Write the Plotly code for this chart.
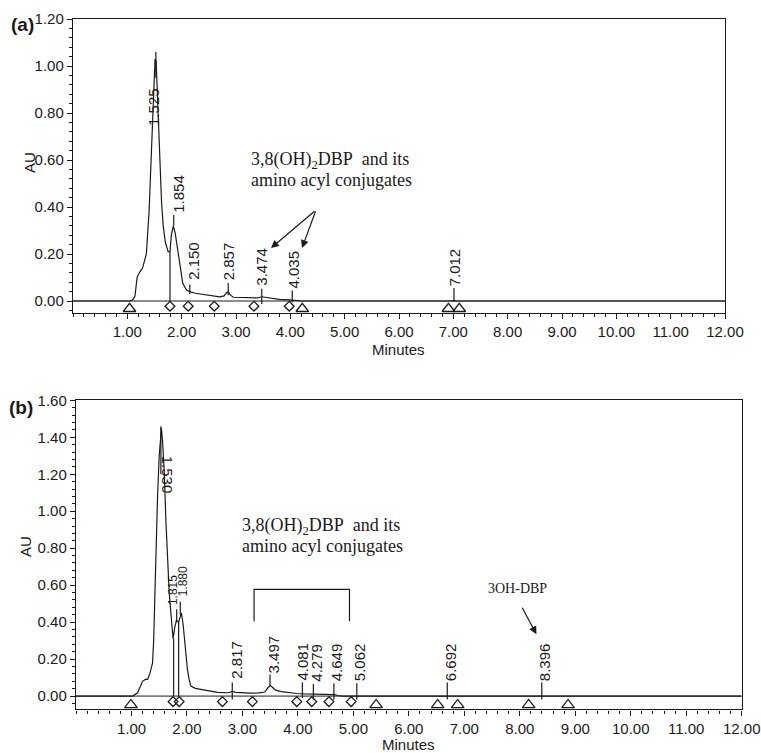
import plotly.graph_objects as go

# ---------------- Panel (a) data ----------------
time_a = [0.00, 1.05, 1.10, 1.14, 1.18, 1.22, 1.28, 1.35, 1.40, 1.45, 1.49, 1.51, 1.53,
          1.56, 1.60, 1.63, 1.66, 1.70, 1.75, 1.785, 1.81, 1.846, 1.88, 1.92, 1.97, 2.02,
          2.09, 2.15, 2.25, 2.34, 2.45, 2.58, 2.70, 2.78, 2.83, 2.86, 2.90, 2.95, 3.10,
          3.32, 3.40, 3.47, 3.55, 3.70, 3.80, 3.98, 4.11, 4.22, 6.95, 7.01, 7.06, 12.00]
au_a = [0.000, 0.000, 0.005, 0.020, 0.100, 0.120, 0.140, 0.200, 0.380, 0.710, 0.950, 1.030, 1.020,
        0.820, 0.570, 0.420, 0.320, 0.250, 0.210, 0.210, 0.280, 0.320, 0.290, 0.230, 0.150, 0.075,
        0.047, 0.040, 0.033, 0.030, 0.025, 0.020, 0.018, 0.022, 0.037, 0.038, 0.025, 0.016, 0.014,
        0.012, 0.013, 0.018, 0.015, 0.009, 0.007, 0.005, 0.003, 0.000, 0.000, 0.002, 0.000, 0.000]

peak_rt_a = [1.525, 1.854, 2.150, 2.857, 3.474, 4.035, 7.012]
tick_lo_a = [0.95, 0.32, 0.03, 0.025, -0.013, -0.005, 0.0]
tick_hi_a = [1.06, 0.366, 0.07, 0.077, 0.052, 0.045, 0.055]
label_y_a = [0.74, 0.37, 0.085, 0.085, 0.060, 0.050, 0.058]
drop_t_a = [1.785]
drop_v_a = [0.21]
diamond_a = [1.785, 2.12, 2.60, 3.33, 3.98]
triangle_a = [1.04, 4.22, 6.91, 7.11]

# ---------------- Panel (b) data ----------------
time_b = [0.00, 1.02, 1.11, 1.16, 1.20, 1.25, 1.29, 1.33, 1.38, 1.40, 1.42, 1.445, 1.47, 1.50,
          1.54, 1.56, 1.59, 1.62, 1.65, 1.68, 1.71, 1.75, 1.78, 1.81, 1.85, 1.90, 1.93, 1.95,
          1.98, 2.01, 2.04, 2.07, 2.15, 2.25, 2.40, 2.55, 2.75, 2.82, 2.88, 3.00, 3.15, 3.30,
          3.40, 3.46, 3.50, 3.54, 3.60, 3.70, 3.85, 3.98, 4.12, 4.36, 4.66, 4.72, 4.80, 12.00]
au_b = [0.000, 0.000, 0.018, 0.050, 0.080, 0.090, 0.090, 0.120, 0.180, 0.300, 0.540, 0.800, 1.080, 1.300,
        1.450, 1.380, 1.220, 0.950, 0.720, 0.560, 0.450, 0.310, 0.370, 0.410, 0.400, 0.450, 0.390, 0.320,
        0.220, 0.140, 0.090, 0.054, 0.042, 0.036, 0.028, 0.020, 0.018, 0.025, 0.020, 0.017, 0.016, 0.017,
        0.022, 0.045, 0.058, 0.048, 0.032, 0.024, 0.017, 0.014, 0.012, 0.010, 0.008, 0.003, 0.000, 0.000]

peak_rt_b = [1.530, 1.815, 1.880, 2.817, 3.497, 4.081, 4.279, 4.649, 5.062, 6.692, 8.396]
tick_lo_b = [1.20, 0.40, 0.44, -0.018, 0.058, -0.01, -0.02, -0.02, -0.02, -0.018, -0.018]
tick_hi_b = [1.46, 0.47, 0.51, 0.074, 0.117, 0.075, 0.066, 0.070, 0.070, 0.074, 0.074]
label_y_b = [1.09, 0.485, 0.533, 0.090, 0.117, 0.081, 0.072, 0.074, 0.074, 0.074, 0.074]
drop_t_b = [1.76, 1.85]
drop_v_b = [0.31, 0.40]
diamond_b = [1.75, 1.86, 2.64, 3.18, 3.98, 4.25, 4.56, 4.96]
triangle_b = [0.99, 5.41, 6.52, 6.88, 8.16, 8.87]

bracket_t_b = [3.21, 4.93]
bracket_v_b = [0.405, 0.577]

x_ticks = [1, 2, 3, 4, 5, 6, 7, 8, 9, 10, 11, 12]
y_ticks_a = [0.0, 0.2, 0.4, 0.6, 0.8, 1.0, 1.2]
y_ticks_b = [0.0, 0.2, 0.4, 0.6, 0.8, 1.0, 1.2, 1.4, 1.6]

# ---------------- figure ----------------
W, H = 761, 753
INK = "#1a1a1a"
SANS = "Arial, Liberation Sans, sans-serif"
SERIF = "Times New Roman, Liberation Serif, serif"
TICKFONT = 15
LABELFONT = 15


def fx(px):
    return px / W


def fy(py):
    return 1 - py / H


fig = go.Figure()


def segs(xs, lo, hi):
    X, Y = [], []
    for x, a, b in zip(xs, lo, hi):
        X += [x, x, None]
        Y += [a, b, None]
    return X, Y


def add_panel(xa, ya, t, v, rts, lo, hi, dt, dv, dia, tri, dia_y, tri_y):
    fig.add_trace(go.Scatter(x=[0, 12], y=[0, 0], mode="lines", xaxis=xa, yaxis=ya,
                             line=dict(color=INK, width=1), hoverinfo="skip", showlegend=False))
    fig.add_trace(go.Scatter(x=t, y=v, mode="lines", xaxis=xa, yaxis=ya,
                             line=dict(color=INK, width=1.2), showlegend=False))
    X, Y = segs(rts, lo, hi)
    X2, Y2 = segs(dt, [0] * len(dt), dv)
    fig.add_trace(go.Scatter(x=X + X2, y=Y + Y2, mode="lines", xaxis=xa, yaxis=ya,
                             line=dict(color=INK, width=1.2), hoverinfo="skip", showlegend=False))
    fig.add_trace(go.Scatter(x=dia, y=[dia_y] * len(dia), mode="markers", xaxis=xa, yaxis=ya,
                             marker=dict(symbol="diamond-open", size=7.5, color=INK,
                                         line=dict(width=1.3, color=INK)),
                             showlegend=False))
    fig.add_trace(go.Scatter(x=tri, y=[tri_y] * len(tri), mode="markers", xaxis=xa, yaxis=ya,
                             marker=dict(symbol="triangle-up-open", size=11, color=INK,
                                         line=dict(width=1.3, color=INK)),
                             showlegend=False))


add_panel("x", "y", time_a, au_a, peak_rt_a, tick_lo_a, tick_hi_a, drop_t_a, drop_v_a,
          diamond_a, triangle_a, -0.022, -0.033)
add_panel("x2", "y2", time_b, au_b, peak_rt_b, tick_lo_b, tick_hi_b, drop_t_b, drop_v_b,
          diamond_b, triangle_b, -0.030, -0.048)

# bracket in (b)
fig.add_trace(go.Scatter(x=[bracket_t_b[0], bracket_t_b[0], bracket_t_b[1], bracket_t_b[1]],
                         y=[bracket_v_b[0], bracket_v_b[1], bracket_v_b[1], bracket_v_b[0]],
                         mode="lines", xaxis="x2", yaxis="y2",
                         line=dict(color=INK, width=1.2), hoverinfo="skip", showlegend=False))


def axis_common(dom, anchor):
    return dict(domain=dom, anchor=anchor, showline=True, linecolor=INK, linewidth=1.4, mirror=True,
                ticks="outside", ticklen=5, tickwidth=1, tickcolor=INK, showgrid=False,
                zeroline=False, automargin=False, fixedrange=True,
                tickfont=dict(family=SANS, size=TICKFONT, color=INK))


xa = axis_common([fx(73), fx(725)], "y")
xa.update(range=[0, 12], tickmode="array", tickvals=x_ticks, ticktext=[f"{v:.2f}" for v in x_ticks],
          minor=dict(tickmode="linear", tick0=0, dtick=0.2, ticklen=3, ticks="outside",
                     tickcolor=INK, tickwidth=1))
ya = axis_common([fy(313), fy(19)], "x")
ya.update(range=[-0.051, 1.2], tickmode="array", tickvals=y_ticks_a,
          ticktext=[f"{v:.2f}" for v in y_ticks_a],
          minor=dict(tickmode="linear", tick0=0, dtick=0.04, ticklen=3, ticks="outside",
                     tickcolor=INK, tickwidth=1))
xb = axis_common([fx(76), fx(741.7)], "y2")
xb.update(range=[0, 12], tickmode="array", tickvals=x_ticks, ticktext=[f"{v:.2f}" for v in x_ticks],
          minor=dict(tickmode="linear", tick0=0, dtick=0.2, ticklen=3, ticks="outside",
                     tickcolor=INK, tickwidth=1))
yb = axis_common([fy(709.3), fy(400.3)], "x2")
yb.update(range=[-0.0715, 1.6], tickmode="array", tickvals=y_ticks_b,
          ticktext=[f"{v:.2f}" for v in y_ticks_b],
          minor=dict(tickmode="linear", tick0=0, dtick=0.04, ticklen=3, ticks="outside",
                     tickcolor=INK, tickwidth=1))

ann = []
# peak labels (a)
shift_a = [-3, 4, 3, 0, 0, 1, 0]
for rt, ly, dx in zip(peak_rt_a, label_y_a, shift_a):
    ann.append(dict(x=rt, y=ly, xref="x", yref="y", text=f"{rt:.3f}", showarrow=False,
                    textangle=-90, xanchor="center", yanchor="bottom", xshift=dx,
                    font=dict(family=SANS, size=LABELFONT, color=INK), borderpad=0))
# peak labels (b)
angle_b = [90, -90, -90, -90, -90, -90, -90, -90, -90, -90, -90]
size_b = [LABELFONT, 12, 12] + [LABELFONT] * 8
shift_b = [7, -3, 2.5, 4, 3, 0, 3.5, 3, 3, 3.5, 3]
for rt, ly, ang, sz, dx in zip(peak_rt_b, label_y_b, angle_b, size_b, shift_b):
    ann.append(dict(x=rt, y=ly, xref="x2", yref="y2", text=f"{rt:.3f}", showarrow=False,
                    textangle=ang, xanchor="center", yanchor="bottom", xshift=dx,
                    font=dict(family=SANS, size=sz, color=INK), borderpad=0))

# compound annotations
line1 = "3,8(OH)<sub>2</sub>DBP\u00a0 and its"
line2 = "amino acyl conjugates"
ann += [
    dict(x=3.24, y=0.60, xref="x", yref="y", text=line1, showarrow=False, xanchor="left",
         yanchor="middle", font=dict(family=SERIF, size=18, color=INK)),
    dict(x=3.24, y=0.515, xref="x", yref="y", text=line2, showarrow=False, xanchor="left",
         yanchor="middle", font=dict(family=SERIF, size=18, color=INK)),
    dict(x=3.644, y=0.2255, xref="x", yref="y", ax=45, ay=-38, text="", showarrow=True,
         arrowhead=2, arrowsize=1.3, arrowwidth=1.2, arrowcolor=INK),
    dict(x=4.215, y=0.2255, xref="x", yref="y", ax=14, ay=-38, text="", showarrow=True,
         arrowhead=2, arrowsize=1.3, arrowwidth=1.2, arrowcolor=INK),
    dict(x=2.955, y=0.919, xref="x2", yref="y2", text=line1, showarrow=False, xanchor="left",
         yanchor="middle", font=dict(family=SERIF, size=18, color=INK)),
    dict(x=2.955, y=0.811, xref="x2", yref="y2", text=line2, showarrow=False, xanchor="left",
         yanchor="middle", font=dict(family=SERIF, size=18, color=INK)),
    dict(x=7.95, y=0.58, xref="x2", yref="y2", text="3OH-DBP", showarrow=False,
         font=dict(family=SERIF, size=14, color=INK)),
    dict(x=8.30, y=0.334, xref="x2", yref="y2", ax=-15, ay=-28, text="", showarrow=True,
         arrowhead=2, arrowsize=1.3, arrowwidth=1.2, arrowcolor=INK),
]


# panel letters & axis titles (positions in page pixels)
def pap(px, py, text, size, bold=False, angle=0):
    return dict(x=fx(px), y=fy(py), xref="paper", yref="paper",
                text=f"<b>{text}</b>" if bold else text,
                showarrow=False, textangle=angle, xanchor="center", yanchor="middle",
                font=dict(family=SANS, size=size, color=INK))


ann += [
    pap(22, 25, "(a)", 19, bold=True),
    pap(21, 407, "(b)", 19, bold=True),
    pap(29, 163, "AU", 15, angle=-90),
    pap(25, 547, "AU", 15, angle=-90),
    pap(399, 349, "Minutes", 15),
    pap(408.5, 744, "Minutes", 15),
]

fig.update_layout(width=W, height=H, margin=dict(l=0, r=0, t=0, b=0, pad=0), autosize=False,
                  paper_bgcolor="white", plot_bgcolor="white", showlegend=False,
                  xaxis=xa, yaxis=ya, xaxis2=xb, yaxis2=yb, annotations=ann)

fig.write_html("out.html", config={"responsive": False, "displayModeBar": False},
               post_script="document.body.style.margin='0';document.body.style.overflow='hidden';")
